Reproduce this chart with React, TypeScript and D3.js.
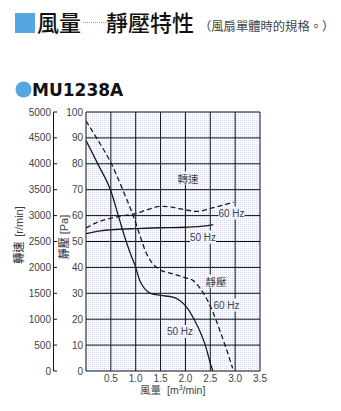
import React from "react";
import * as d3 from "d3";

const xTicks = [0.5, 1.0, 1.5, 2.0, 2.5, 3.0, 3.5];
const paTicks = [0, 10, 20, 30, 40, 50, 60, 70, 80, 90, 100];
const rpmTicks = [0, 500, 1000, 1500, 2000, 2500, 3000, 3500, 4000, 4500, 5000];

// static pressure [Pa] vs airflow [m3/min]
const pressure60: [number, number][] = [
  [0, 96.5], [0.25, 88.8], [0.5, 80.4], [0.75, 69.5], [0.93, 61], [1.1, 51.5], [1.2, 46],
  [1.3, 42.5], [1.5, 39], [1.75, 37.5], [2.0, 36], [2.15, 35], [2.3, 31.8], [2.45, 27],
  [2.6, 20.5], [2.75, 12.5], [2.85, 7], [2.95, 1],
];
const pressure50: [number, number][] = [
  [0, 89], [0.25, 79.5], [0.5, 69.5], [0.65, 60], [0.8, 50.5], [0.9, 45], [1.0, 40],
  [1.08, 35], [1.17, 32], [1.3, 30], [1.5, 29.2], [1.75, 28.5], [1.9, 27], [2.05, 24],
  [2.2, 19], [2.3, 15], [2.4, 10], [2.5, 3], [2.55, 0],
];
// speed [r/min] vs airflow
const speed60: [number, number][] = [
  [0, 2760], [0.25, 2880], [0.5, 2950], [0.75, 3000], [1.0, 3040], [1.25, 3120], [1.5, 3180],
  [1.75, 3160], [2.0, 3110], [2.25, 3080], [2.5, 3140], [2.75, 3200], [2.97, 3260],
];
const speed50: [number, number][] = [
  [0, 2650], [0.25, 2700], [0.5, 2725], [1.0, 2750], [1.5, 2765], [2.0, 2775], [2.3, 2790], [2.56, 2825],
];

const curveLabels = [
  { text: "轉速", x: 188, y: 178 },
  { text: "60 Hz", x: 231.5, y: 213 },
  { text: "50 Hz", x: 203, y: 237 },
  { text: "靜壓", x: 216, y: 281 },
  { text: "60 Hz", x: 226.5, y: 305 },
  { text: "50 Hz", x: 180, y: 331.5 },
];

export default function App() {
  const x = d3.scaleLinear().domain([0, 3.5]).range([86, 260]);
  const y = d3.scaleLinear().domain([0, 100]).range([371, 112]);
  const yr = d3.scaleLinear().domain([0, 5000]).range([371, 112]);
  const lineP = d3.line<[number, number]>().x((d) => x(d[0])).y((d) => y(d[1])).curve(d3.curveMonotoneX);
  const lineR = d3.line<[number, number]>().x((d) => x(d[0])).y((d) => yr(d[1])).curve(d3.curveMonotoneX);
  const xGrid = [0, ...xTicks];
  const font = "'Liberation Sans', Arial, sans-serif";
  const cjk = "'Noto Sans CJK TC', 'Noto Sans CJK JP', sans-serif";
  const tc = "#3b3f4a";

  return (
    <svg width={341} height={411} style={{ position: "absolute", left: 0, top: 0 }}>
      <defs>
        <pattern id="dots" width={2} height={2} patternUnits="userSpaceOnUse">
          <rect width={2} height={2} fill="#ffffff" />
          <rect width={1} height={1} fill="#d3d6f3" />
        </pattern>
        <clipPath id="plotclip">
          <rect x={86} y={112} width={174} height={259} />
        </clipPath>
      </defs>
      <rect width={341} height={411} fill="#fff" />

      {/* title */}
      <rect x={15} y={13} width={20} height={20} fill="#56a6e4" />
      <text x={37} y={31} fontFamily={cjk} fontSize={22} fontWeight={500} fill="#111">風量</text>
      <line x1={83} x2={106} y1={22.5} y2={22.5} stroke="#999" strokeWidth={1} strokeDasharray="1,1" />
      <text x={106} y={31} fontFamily={cjk} fontSize={22} fontWeight={500} fill="#111">靜壓特性</text>
      <text x={199} y={31} fontFamily={cjk} fontSize={12.3} fill="#444">（風扇單體時的規格。）</text>

      <circle cx={23.5} cy={89.5} r={8} fill="#56a6e4" />
      <text x={32} y={96} fontFamily="'DejaVu Sans', sans-serif" fontWeight="bold" fontSize={17} fill="#111">MU1238A</text>

      {/* plot background */}
      <rect x={86} y={112} width={174} height={259} fill="url(#dots)" />
      {paTicks.map((t) => (
        <line key={"h" + t} x1={86} x2={260} y1={y(t)} y2={y(t)} stroke="#111" strokeWidth={1} />
      ))}
      {xGrid.map((t) => (
        <line key={"v" + t} x1={x(t)} x2={x(t)} y1={112} y2={371} stroke="#111" strokeWidth={1} />
      ))}

      {/* label backgrounds */}
      {curveLabels.map((l, i) => {
        const w = l.text.length === 2 ? 22 : 26;
        return <rect key={"lb" + i} x={l.x - w / 2} y={l.y - 6.5} width={w} height={13} fill="url(#dots)" />;
      })}

      <g clipPath="url(#plotclip)" fill="none" stroke="#1a1a1a" strokeWidth={1.3}>
        <path d={lineP(pressure60) || ""} strokeDasharray="5,3" />
        <path d={lineP(pressure50) || ""} />
        <path d={lineR(speed60) || ""} strokeDasharray="5,3" />
        <path d={lineR(speed50) || ""} />
      </g>

      {curveLabels.map((l, i) => (
        <text key={"lt" + i} x={l.x} y={l.y} textAnchor="middle" dominantBaseline="central"
          fontFamily={l.text.includes("Hz") ? font : cjk} fontSize={l.text.includes("Hz") ? 10 : 10.5} fill={tc}>
          {l.text}
        </text>
      ))}

      {/* Pa axis labels */}
      {paTicks.map((t) => (
        <text key={"pl" + t} x={83} y={y(t)} textAnchor="end" dominantBaseline="central" fontFamily={font} fontSize={10} fill={tc}>
          {t}
        </text>
      ))}

      {/* rpm axis */}
      <line x1={53.5} x2={53.5} y1={yr(5000)} y2={yr(0)} stroke="#111" strokeWidth={1} />
      {rpmTicks.map((t) => (
        <g key={"r" + t}>
          <line x1={53.5} x2={57} y1={yr(t)} y2={yr(t)} stroke="#111" strokeWidth={1} />
          <text x={51} y={yr(t)} textAnchor="end" dominantBaseline="central" fontFamily={font} fontSize={10} fill={tc}>
            {t}
          </text>
        </g>
      ))}

      {/* x axis labels */}
      {xTicks.map((t) => (
        <text key={"xl" + t} x={x(t)} y={382} textAnchor="middle" fontFamily={font} fontSize={10} fill={tc}>
          {t.toFixed(1)}
        </text>
      ))}
      <text x={140} y={394} fontFamily={cjk} fontSize={10.5} fill={tc}>
        風量
        <tspan fontFamily={font} dx={6}>[m</tspan>
        <tspan fontFamily={font} fontSize={7} dy={-4}>3</tspan>
        <tspan fontFamily={font} dy={4}>/min]</tspan>
      </text>

      {/* y axis titles */}
      <text transform="translate(23,235) rotate(-90)" textAnchor="middle" fontFamily={cjk} fontSize={11} fontWeight={500} fill={tc}>
        轉速<tspan fontFamily={font} dx={5}>[r/min]</tspan>
      </text>
      <text transform="translate(68,237) rotate(-90)" textAnchor="middle" fontFamily={cjk} fontSize={11} fontWeight={500} fill={tc}>
        靜壓<tspan fontFamily={font} dx={3}>[Pa]</tspan>
      </text>
    </svg>
  );
}
